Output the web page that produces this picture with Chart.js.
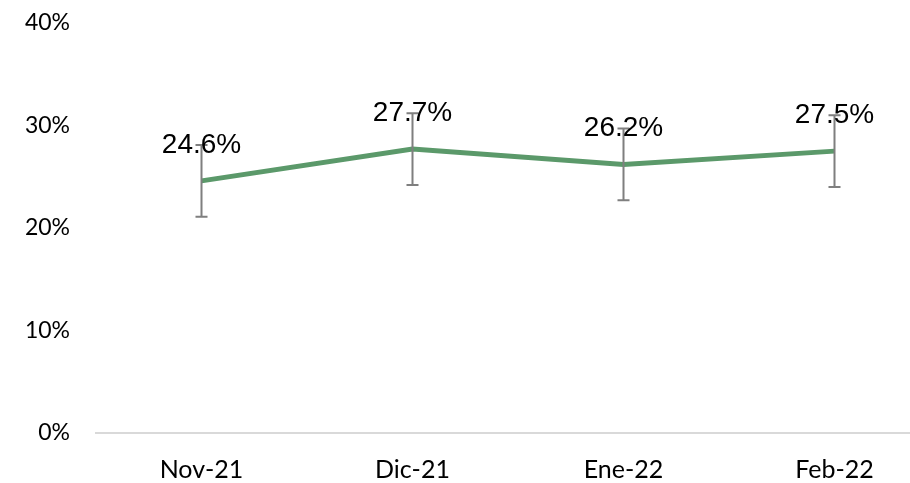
<!DOCTYPE html>
<html>
<head>
<meta charset="utf-8">
<script src="https://cdn.jsdelivr.net/npm/chart.js@4/dist/chart.umd.min.js"></script>
<style>
  html, body { margin: 0; padding: 0; overflow: hidden; background: #fff; }
  #wrap { width: 940px; height: 483px; }
</style>
</head>
<body>
<div id="wrap"><canvas id="myChart" width="940" height="483"></canvas></div>
<script>
// chart data
const months = ['Nov-21', 'Dic-21', 'Ene-22', 'Feb-22'];
const values = [24.6, 27.7, 26.2, 27.5];
const errLow = [3.5, 3.5, 3.5, 3.5];
const errHigh = [3.5, 3.5, 3.5, 3.5];
const yTicks = [0, 10, 20, 30, 40];

// error bars drawn from the y scale
const errorBars = {
  id: 'errorBars',
  afterDatasetsDraw(chart) {
    const ctx = chart.ctx;
    const x = chart.scales.x, y = chart.scales.y;
    ctx.save();
    ctx.strokeStyle = '#7f7f7f';
    ctx.lineWidth = 2;
    values.forEach((v, i) => {
      const px = x.getPixelForValue(i);
      const top = y.getPixelForValue(v + errHigh[i]);
      const bot = y.getPixelForValue(v - errLow[i]);
      ctx.beginPath();
      ctx.moveTo(px, top); ctx.lineTo(px, bot);
      ctx.moveTo(px - 6, top); ctx.lineTo(px + 6, top);
      ctx.moveTo(px - 6, bot); ctx.lineTo(px + 6, bot);
      ctx.stroke();
    });
    ctx.restore();
  }
};

// value labels above each point
const valueLabels = {
  id: 'valueLabels',
  afterDraw(chart) {
    const ctx = chart.ctx;
    const x = chart.scales.x, y = chart.scales.y;
    ctx.save();
    ctx.fillStyle = '#000';
    ctx.font = '28px "Liberation Sans", Arial, sans-serif';
    ctx.textAlign = 'center';
    ctx.textBaseline = 'middle';
    values.forEach((v, i) => {
      ctx.fillText(v.toFixed(1) + '%', x.getPixelForValue(i), y.getPixelForValue(v) - 36);
    });
    ctx.restore();
  }
};

new Chart(document.getElementById('myChart'), {
  type: 'line',
  data: {
    labels: months,
    datasets: [{
      data: values,
      borderColor: 'rgb(91,153,106)',
      borderWidth: 5,
      pointRadius: 0,
      tension: 0,
      fill: false
    }]
  },
  options: {
    responsive: false,
    animation: false,
    layout: { padding: { top: 23, right: 0, left: 0, bottom: 0 } },
    plugins: { legend: { display: false }, tooltip: { enabled: false } },
    scales: {
      x: {
        offset: true,
        grid: { display: false, drawTicks: false },
        border: { color: '#d9d9d9', width: 2 },
        ticks: { color: '#000', font: { family: 'Lato', size: 25 }, padding: 22 },
        afterFit(s) { s.height = 50; s.paddingLeft = 0; s.paddingRight = 0; }
      },
      y: {
        min: 0, max: 40,
        afterBuildTicks(s) { s.ticks = yTicks.map(v => ({ value: v })); },
        grid: { display: false, drawTicks: false },
        border: { display: false },
        ticks: {
          color: '#000',
          font: { family: 'Lato', size: 23 },
          padding: 26,
          callback: v => v + '%'
        },
        afterFit(s) { s.width = 96; s.paddingTop = 0; s.paddingBottom = 0; }
      }
    }
  },
  plugins: [errorBars, valueLabels]
});
</script>
</body>
</html>
